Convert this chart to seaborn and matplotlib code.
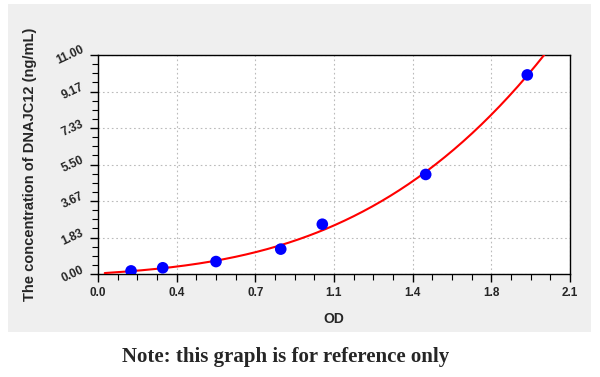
import numpy as np
import pandas as pd
import matplotlib
matplotlib.use("Agg")
import matplotlib.pyplot as plt
import seaborn as sns
from matplotlib.ticker import FixedLocator, AutoMinorLocator
from matplotlib.patches import Rectangle

# Data
od = [0.147, 0.288, 0.525, 0.813, 0.998, 1.458, 1.910]
conc = [0.156, 0.312, 0.625, 1.25, 2.5, 5.0, 10.0]
x_ticks = [0.0, 0.35, 0.7, 1.05, 1.4, 1.75, 2.1]
x_labels = ["0.0", "0.4", "0.7", "1.1", "1.4", "1.8", "2.1"]
y_ticks = [0.0, 11/6, 22/6, 33/6, 44/6, 55/6, 11.0]
y_labels = ["0.00", "1.83", "3.67", "5.50", "7.33", "9.17", "11.00"]

sns.set_style("white")
plt.rcParams['font.family'] = ['Liberation Sans', 'DejaVu Sans']

fig = plt.figure(figsize=(6.0, 3.77), dpi=100)
fig.patch.set_facecolor("white")
# gray panel
fig.patches.append(Rectangle((8/600, 1-332/377), (591-8)/600, (332-4)/377,
                             transform=fig.transFigure, facecolor="#efefef",
                             edgecolor="none", zorder=-5))

ax = fig.add_axes([98/600, 1-274/377, (570-98)/600, (274-55)/377])
ax.set_zorder(2)
ax.set_facecolor("white")

# fitted curve (cubic fit of the standards)
coef = np.polyfit(od, conc, 3)
xs = np.linspace(0.03, 2.05, 300)
ys = np.polyval(coef, xs)
curve = pd.DataFrame({"OD": xs, "conc": ys})
sns.lineplot(data=curve, x="OD", y="conc", ax=ax, color="red", lw=1.5, zorder=3)

pts = pd.DataFrame({"OD": od, "conc": conc})
sns.scatterplot(data=pts, x="OD", y="conc", ax=ax, color="#0000ff", s=70,
                edgecolor="none", zorder=4)

ax.set_xlim(0, 2.1)
ax.set_ylim(0, 11)
ax.xaxis.set_major_locator(FixedLocator(x_ticks))
ax.yaxis.set_major_locator(FixedLocator(y_ticks))
ax.set_xticklabels(x_labels, fontsize=8.5, fontweight="bold")
ax.set_yticklabels(y_labels, fontsize=8.5, fontweight="bold", rotation=25,
                   va="center")
ax.xaxis.set_minor_locator(AutoMinorLocator(4))
ax.yaxis.set_minor_locator(AutoMinorLocator(4))
ax.tick_params(which="major", direction="out", length=6, width=1, color="black",
               bottom=True, left=True, pad=3)
ax.tick_params(which="minor", direction="out", length=4, width=0.8, color="black",
               bottom=True, left=True)
ax.grid(True, which="major", linestyle=(0, (1.5, 2.5)), color="#bbbbbb", lw=0.8)
for s in ax.spines.values():
    s.set_visible(True)
    s.set_color("black")
    s.set_linewidth(1.0)

ax.set_xlabel("OD", fontsize=10, fontweight="bold", labelpad=10)
ax.set_ylabel("The concentration of DNAJC12 (ng/mL)", fontsize=10.5,
              fontweight="bold", labelpad=12)

fig.text(286/600, 1-357/377, "Note: this graph is for reference only",
         ha="center", va="center", fontsize=15, fontweight="bold",
         family=["Liberation Serif", "DejaVu Serif"])

fig.savefig("out.png", dpi=100)
